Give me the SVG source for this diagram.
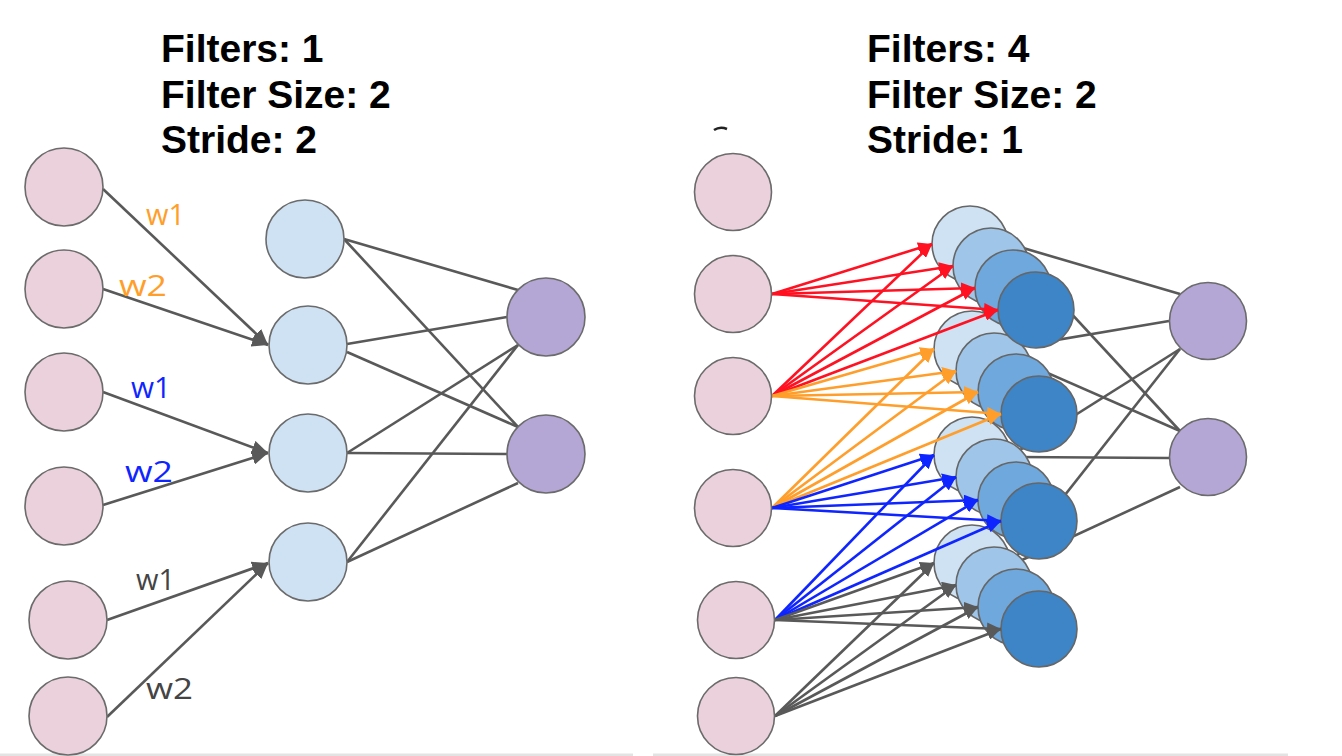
<svg xmlns="http://www.w3.org/2000/svg" width="1342" height="756" viewBox="0 0 1342 756">
<defs>
<style>
.title{font-family:"Liberation Sans",Arial,sans-serif;font-weight:bold;font-size:39px;fill:#000}
.lbl{font-family:"Open Sans","Lato",sans-serif;font-weight:400;font-size:30px}
.in{fill:#ead1dc;stroke:#6b6b6b;stroke-width:1.6}
.hid{fill:#cfe2f3;stroke:#6b6b6b;stroke-width:1.6}
.f1{fill:#cfe2f3;stroke:#666;stroke-width:1.6}
.f2{fill:#9fc5e8;stroke:#666;stroke-width:1.6}
.f3{fill:#6fa8dc;stroke:#666;stroke-width:1.6}
.f4{fill:#3d85c6;stroke:#666;stroke-width:1.6}
.out{fill:#b4a7d6;stroke:#6b6b6b;stroke-width:1.6}
.ln{stroke:#595959;stroke-width:2.6;fill:none}
.ag{stroke:#595959;stroke-width:2.6;fill:none;marker-end:url(#mG)}
.agL{stroke:#595959;stroke-width:2.6;fill:none;marker-end:url(#mGL)}
.ar{stroke:#ff1122;stroke-width:2.6;fill:none;marker-end:url(#mR)}
.ao{stroke:#ff9e2a;stroke-width:2.6;fill:none;marker-end:url(#mO)}
.ab{stroke:#0f25ff;stroke-width:2.6;fill:none;marker-end:url(#mB)}
</style>
<marker id="mGL" markerUnits="userSpaceOnUse" markerWidth="16" markerHeight="14" refX="16" refY="7" orient="auto"><path d="M0,0 L16,7 L0,14 z" fill="#595959"/></marker>
<marker id="mG" markerUnits="userSpaceOnUse" markerWidth="14" markerHeight="12" refX="14" refY="6" orient="auto"><path d="M0,0 L14,6 L0,12 z" fill="#595959"/></marker>
<marker id="mR" markerUnits="userSpaceOnUse" markerWidth="14" markerHeight="12" refX="14" refY="6" orient="auto"><path d="M0,0 L14,6 L0,12 z" fill="#ff1122"/></marker>
<marker id="mO" markerUnits="userSpaceOnUse" markerWidth="14" markerHeight="12" refX="14" refY="6" orient="auto"><path d="M0,0 L14,6 L0,12 z" fill="#ff9e2a"/></marker>
<marker id="mB" markerUnits="userSpaceOnUse" markerWidth="14" markerHeight="12" refX="14" refY="6" orient="auto"><path d="M0,0 L14,6 L0,12 z" fill="#0f25ff"/></marker>
</defs>
<rect width="1342" height="756" fill="#fff"/>
<rect x="0" y="753.5" width="633" height="2.5" fill="#e3e3e3"/>
<rect x="653" y="753.5" width="635" height="2.5" fill="#e3e3e3"/>

<g id="titles">
<text class="title" x="161" y="62">Filters: 1</text>
<text class="title" x="161" y="108">Filter Size: 2</text>
<text class="title" x="161" y="153">Stride: 2</text>
<text class="title" x="867" y="62">Filters: 4</text>
<text class="title" x="867" y="108">Filter Size: 2</text>
<text class="title" x="867" y="153">Stride: 1</text>
</g>
<path d="M714,130 Q720,126 727,129" stroke="#222" stroke-width="2.5" fill="none"/>

<!-- LEFT DIAGRAM -->
<g id="connectors-left">
<line class="ln" x1="344" y1="239" x2="518" y2="290"/>
<line class="ln" x1="344" y1="239" x2="518" y2="427"/>
<line class="ln" x1="347" y1="344" x2="507" y2="317"/>
<line class="ln" x1="347" y1="352" x2="518" y2="427"/>
<line class="ln" x1="347" y1="453" x2="518" y2="345"/>
<line class="ln" x1="347" y1="453" x2="507" y2="454"/>
<line class="ln" x1="347" y1="562" x2="518" y2="345"/>
<line class="ln" x1="347" y1="562" x2="518" y2="483"/>
<line class="agL" x1="103" y1="189" x2="268" y2="345"/>
<line class="agL" x1="103" y1="289" x2="268" y2="345"/>
<line class="agL" x1="103" y1="392" x2="268" y2="453"/>
<line class="agL" x1="103" y1="505" x2="268" y2="453"/>
<line class="agL" x1="107" y1="620" x2="268" y2="563"/>
<line class="agL" x1="107" y1="717" x2="268" y2="563"/>
</g>
<g id="labels-left">
<text class="lbl" x="146" y="225" fill="#ff9e2a" textLength="39" lengthAdjust="spacingAndGlyphs">w1</text>
<text class="lbl" x="119" y="296" fill="#ff9e2a" textLength="48" lengthAdjust="spacingAndGlyphs">w2</text>
<text class="lbl" x="131" y="398" fill="#0f25ff" textLength="40" lengthAdjust="spacingAndGlyphs">w1</text>
<text class="lbl" x="125" y="482" fill="#0f25ff" textLength="48" lengthAdjust="spacingAndGlyphs">w2</text>
<text class="lbl" x="136" y="590" fill="#444" textLength="39" lengthAdjust="spacingAndGlyphs">w1</text>
<text class="lbl" x="146" y="699" fill="#444" textLength="47" lengthAdjust="spacingAndGlyphs">w2</text>
</g>
<g id="L-in1"><circle class="in" cx="64" cy="187" r="39"/></g>
<g id="L-in2"><circle class="in" cx="64" cy="289" r="39"/></g>
<g id="L-in3"><circle class="in" cx="64" cy="392" r="39"/></g>
<g id="L-in4"><circle class="in" cx="64" cy="506" r="39"/></g>
<g id="L-in5"><circle class="in" cx="68" cy="620" r="39"/></g>
<g id="L-in6"><circle class="in" cx="68" cy="716" r="39"/></g>
<g id="L-h1"><circle class="hid" cx="305" cy="239" r="39"/></g>
<g id="L-h2"><circle class="hid" cx="308" cy="345" r="39"/></g>
<g id="L-h3"><circle class="hid" cx="308" cy="453" r="39"/></g>
<g id="L-h4"><circle class="hid" cx="308" cy="562" r="39"/></g>
<g id="L-o1"><circle class="out" cx="546" cy="317" r="39"/></g>
<g id="L-o2"><circle class="out" cx="546" cy="454" r="39"/></g>

<!-- RIGHT DIAGRAM -->
<g id="connectors-right-out">
<line class="ln" x1="1006" y1="243" x2="1180" y2="294"/>
<line class="ln" x1="1006" y1="243" x2="1180" y2="431"/>
<line class="ln" x1="1009" y1="348" x2="1169" y2="321"/>
<line class="ln" x1="1009" y1="356" x2="1180" y2="431"/>
<line class="ln" x1="1009" y1="457" x2="1180" y2="349"/>
<line class="ln" x1="1009" y1="457" x2="1169" y2="458"/>
<line class="ln" x1="1009" y1="566" x2="1180" y2="349"/>
<line class="ln" x1="1009" y1="566" x2="1180" y2="487"/>
</g>
<g id="filter-g4">
<circle class="f1" cx="972" cy="563" r="38"/>
<circle class="f2" cx="994" cy="585" r="38"/>
<circle class="f3" cx="1016" cy="607" r="38"/>
<circle class="f4" cx="1039" cy="629" r="38"/>
</g>
<g id="filter-g3">
<circle class="f1" cx="972" cy="455" r="38"/>
<circle class="f2" cx="994" cy="477" r="38"/>
<circle class="f3" cx="1016" cy="500" r="38"/>
<circle class="f4" cx="1039" cy="521" r="38"/>
</g>
<g id="filter-g2">
<circle class="f1" cx="972" cy="349" r="38"/>
<circle class="f2" cx="994" cy="371" r="38"/>
<circle class="f3" cx="1016" cy="392" r="38"/>
<circle class="f4" cx="1039" cy="414" r="38"/>
</g>
<g id="filter-g1">
<circle class="f1" cx="970" cy="244" r="38"/>
<circle class="f2" cx="991" cy="266" r="38"/>
<circle class="f3" cx="1013" cy="288" r="38"/>
<circle class="f4" cx="1036" cy="310" r="38"/>
</g>
<g id="connectors-right-in">
<line class="ar" x1="772" y1="294" x2="932" y2="244"/>
<line class="ar" x1="772" y1="294" x2="953" y2="266"/>
<line class="ar" x1="772" y1="294" x2="975" y2="288"/>
<line class="ar" x1="772" y1="294" x2="998" y2="310"/>
<line class="ar" x1="772" y1="396" x2="932" y2="244"/>
<line class="ar" x1="772" y1="396" x2="953" y2="266"/>
<line class="ar" x1="772" y1="396" x2="975" y2="288"/>
<line class="ar" x1="772" y1="396" x2="998" y2="310"/>
<line class="ao" x1="772" y1="396" x2="934" y2="349"/>
<line class="ao" x1="772" y1="396" x2="956" y2="371"/>
<line class="ao" x1="772" y1="396" x2="978" y2="392"/>
<line class="ao" x1="772" y1="396" x2="1001" y2="414"/>
<line class="ao" x1="772" y1="508" x2="934" y2="349"/>
<line class="ao" x1="772" y1="508" x2="956" y2="371"/>
<line class="ao" x1="772" y1="508" x2="978" y2="392"/>
<line class="ao" x1="772" y1="508" x2="1001" y2="414"/>
<line class="ab" x1="772" y1="508" x2="934" y2="455"/>
<line class="ab" x1="772" y1="508" x2="956" y2="477"/>
<line class="ab" x1="772" y1="508" x2="978" y2="500"/>
<line class="ab" x1="772" y1="508" x2="1001" y2="521"/>
<line class="ab" x1="775" y1="620" x2="934" y2="455"/>
<line class="ab" x1="775" y1="620" x2="956" y2="477"/>
<line class="ab" x1="775" y1="620" x2="978" y2="500"/>
<line class="ab" x1="775" y1="620" x2="1001" y2="521"/>
<line class="ag" x1="775" y1="620" x2="934" y2="563"/>
<line class="ag" x1="775" y1="620" x2="956" y2="585"/>
<line class="ag" x1="775" y1="620" x2="978" y2="607"/>
<line class="ag" x1="775" y1="620" x2="1001" y2="629"/>
<line class="ag" x1="775" y1="716" x2="934" y2="563"/>
<line class="ag" x1="775" y1="716" x2="956" y2="585"/>
<line class="ag" x1="775" y1="716" x2="978" y2="607"/>
<line class="ag" x1="775" y1="716" x2="1001" y2="629"/>
</g>
<g id="R-in1"><circle class="in" cx="733" cy="192" r="38.5"/></g>
<g id="R-in2"><circle class="in" cx="733" cy="294" r="38.5"/></g>
<g id="R-in3"><circle class="in" cx="733" cy="396" r="38.5"/></g>
<g id="R-in4"><circle class="in" cx="733" cy="508" r="38.5"/></g>
<g id="R-in5"><circle class="in" cx="736" cy="620" r="38.5"/></g>
<g id="R-in6"><circle class="in" cx="736" cy="716" r="38.5"/></g>
<g id="R-o1"><circle class="out" cx="1208" cy="321" r="38.5"/></g>
<g id="R-o2"><circle class="out" cx="1208" cy="457" r="38.5"/></g>
</svg>
